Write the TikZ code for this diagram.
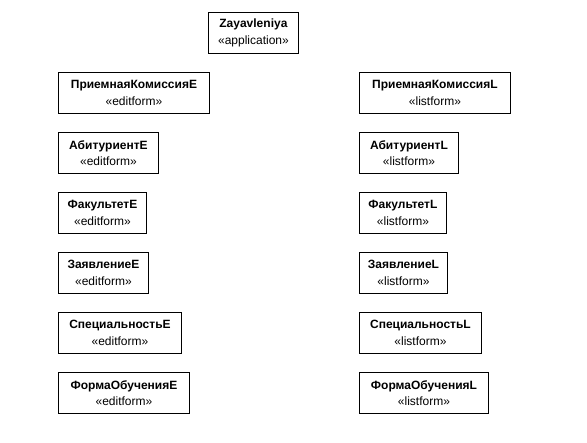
\documentclass[tikz,border=0pt]{standalone}
\usepackage{fontspec}
\setmainfont{Liberation Sans}
\begin{document}
\begin{tikzpicture}[x=1pt,y=-1pt,
  umlbox/.style={draw=black, line width=0.9pt, fill=white, anchor=north west,
    minimum height=41pt, inner sep=0pt, align=center,
    font=\fontsize{12}{16.5}\selectfont}]
\useasboundingbox (0,0) rectangle (587,443);
% application node
\node[umlbox, minimum width=90pt] (app) at (208,12) {\textbf{Zayavleniya}\\«application»};
% edit forms
\node[umlbox, minimum width=151pt] (pkE) at (58,72)  {\textbf{ПриемнаяКомиссияE}\\«editform»};
\node[umlbox, minimum width=100pt] (abE) at (58,132) {\textbf{АбитуриентE}\\«editform»};
\node[umlbox, minimum width=88pt]  (fkE) at (58,192) {\textbf{ФакультетE}\\«editform»};
\node[umlbox, minimum width=90pt]  (zaE) at (58,252) {\textbf{ЗаявлениеE}\\«editform»};
\node[umlbox, minimum width=123pt] (spE) at (58,312) {\textbf{СпециальностьE}\\«editform»};
\node[umlbox, minimum width=131pt] (foE) at (58,372) {\textbf{ФормаОбученияE}\\«editform»};
% list forms
\node[umlbox, minimum width=151pt] (pkL) at (359,72)  {\textbf{ПриемнаяКомиссияL}\\«listform»};
\node[umlbox, minimum width=99pt]  (abL) at (359,132) {\textbf{АбитуриентL}\\«listform»};
\node[umlbox, minimum width=87pt]  (fkL) at (359,192) {\textbf{ФакультетL}\\«listform»};
\node[umlbox, minimum width=88pt]  (zaL) at (359,252) {\textbf{ЗаявлениеL}\\«listform»};
\node[umlbox, minimum width=122pt] (spL) at (359,312) {\textbf{СпециальностьL}\\«listform»};
\node[umlbox, minimum width=129pt] (foL) at (359,372) {\textbf{ФормаОбученияL}\\«listform»};
\end{tikzpicture}
\end{document}
